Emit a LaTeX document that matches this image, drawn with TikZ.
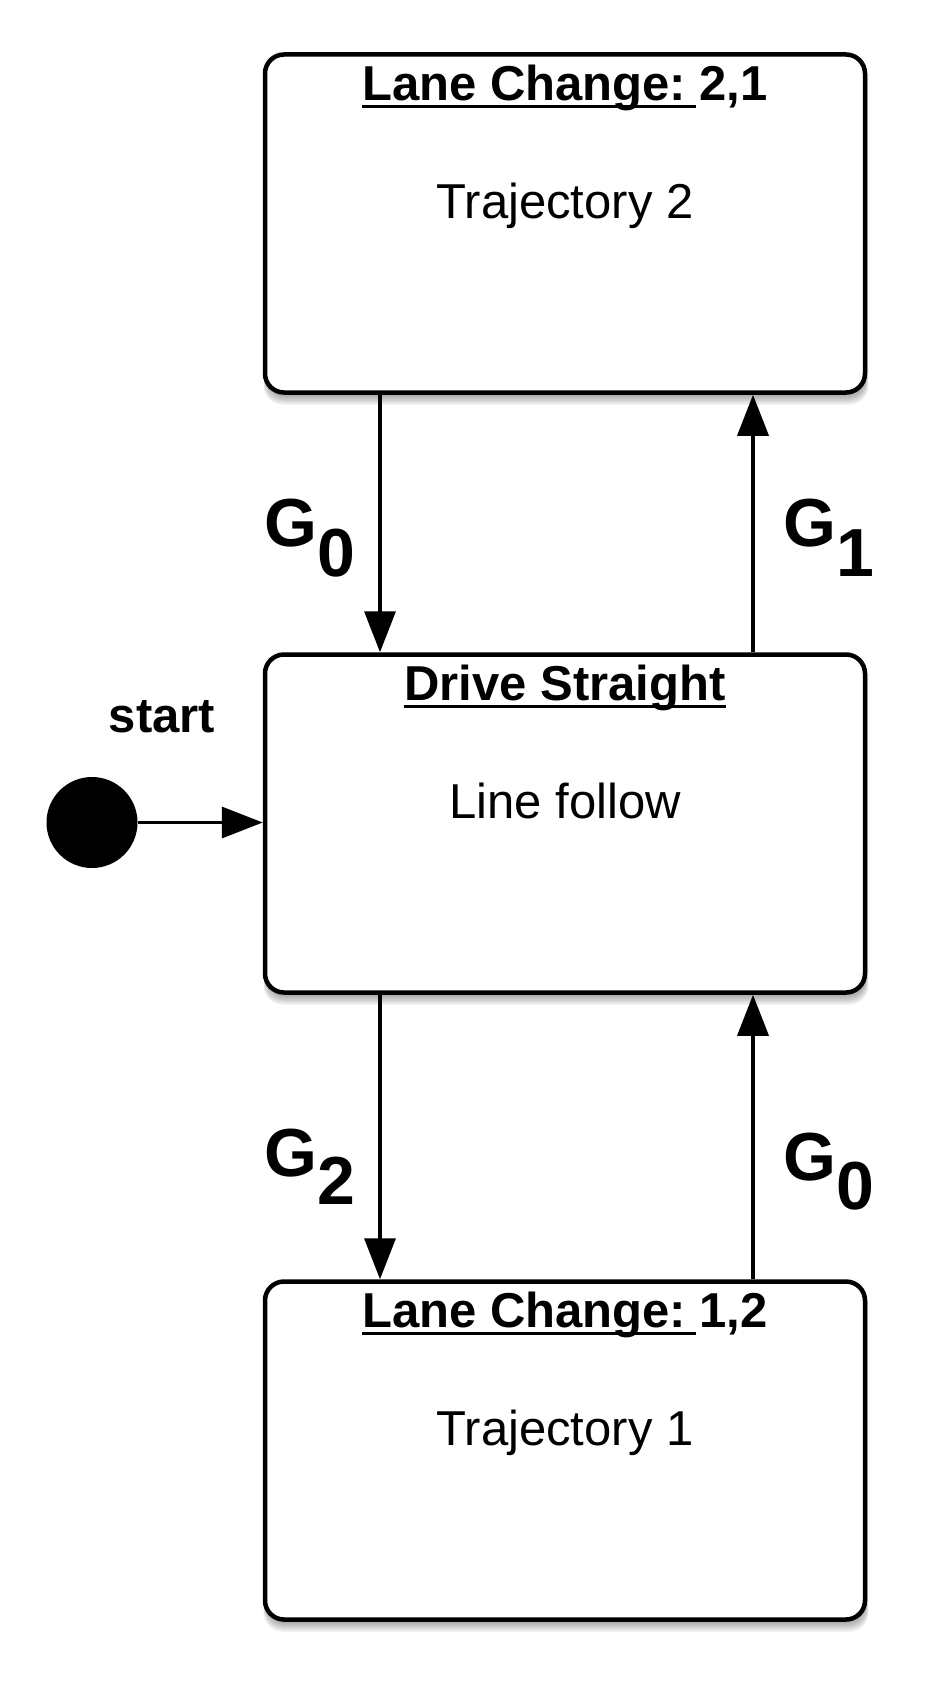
\documentclass[tikz,border=0pt]{standalone}
\usepackage{fontspec}
\setmainfont{Liberation Sans}
\usetikzlibrary{arrows.meta}
\frenchspacing
\newlength\ullen
\newcommand\myul[2][0pt]{\settowidth{\ullen}{#2}\addtolength{\ullen}{#1}\rlap{\rule[-7.3pt]{\ullen}{2.6pt}}#2}
\newcommand\boxshadow[2]{%
  \foreach \g in {0,2,4,6,8}{%
    \fill[black, opacity=0.07, rounded corners=19pt]
      ({#1-299-0.3*\g},{#2-165}) rectangle ({#1+301+0.3*\g},{#2+173+\g});
  }}
\tikzset{
  state/.style={draw, line width=4.5pt, fill=white, rounded corners=19pt,
    minimum width=600pt, minimum height=338pt, inner sep=0pt},
  titletext/.style={inner sep=0pt, font=\fontsize{49}{58}\selectfont\bfseries},
  bodytext/.style={inner sep=0pt, font=\fontsize{49}{58}\selectfont},
  starttext/.style={inner sep=0pt, font=\fontsize{49}{58}\selectfont\bfseries},
  glabel/.style={inner sep=0pt, font=\fontsize{68}{80}\selectfont\bfseries},
  initstate/.style={circle, fill=black, minimum size=91pt, inner sep=0pt},
  arr/.style={line width=3.5pt, -{Triangle[length=41pt,width=31pt]}}
}
\begin{document}
\begin{tikzpicture}[x=1pt,y=-1pt]
\useasboundingbox (0,0) rectangle (933,1691);
\fill[white] (0,0) rectangle (933,1691);
% shadows
\boxshadow{565}{223.5}
\boxshadow{565}{823.5}
\boxshadow{565}{1450.5}
% states
\node[state] (lc21) at (565,223.5) {};
\node[state] (ds) at (565,823.5) {};
\node[state] (lc12) at (565,1450.5) {};
% texts in states
\node[titletext, anchor=base] (lc21t) at ([yshift=-48pt]lc21.north) {\myul[0.2em]{Lane Change:}\hspace{0.278em}2,1};
\node[bodytext, anchor=base] (lc21b) at ([yshift=-166pt]lc21.north) {Trajectory 2};
\node[titletext, anchor=base] (dst) at ([yshift=-48pt]ds.north) {\myul{Drive Straight}};
\node[bodytext, anchor=base] (dsb) at ([yshift=-166pt]ds.north) {Line follow};
\node[titletext, anchor=base] (lc12t) at ([yshift=-48pt]lc12.north) {\myul[0.2em]{Lane Change:}\hspace{0.278em}1,2};
\node[bodytext, anchor=base] (lc12b) at ([yshift=-166pt]lc12.north) {Trajectory 1};
% initial
\node[initstate] (init) at (92,822.5) {};
\node[starttext, anchor=base] (startlbl) at (162,732) {start};
\draw[arr] (init.east) -- (init.east -| ds.west);
% transitions
\draw[arr] ([xshift=-185pt]lc21.south) -- ([xshift=-185pt]ds.north);
\draw[arr] ([xshift=188pt]ds.north) -- ([xshift=188pt]lc21.south);
\draw[arr] ([xshift=-185pt]ds.south) -- ([xshift=-185pt]lc12.north);
\draw[arr] ([xshift=188pt]lc12.north) -- ([xshift=188pt]ds.south);
% guard labels
\node[glabel, anchor=base west] (g0a) at (264,546) {G\raisebox{-30pt}{0}};
\node[glabel, anchor=base west] (g1) at (783,546) {G\raisebox{-30pt}{1}};
\node[glabel, anchor=base west] (g2) at (264,1176) {G\raisebox{-28pt}{2}};
\node[glabel, anchor=base west] (g0b) at (783,1180) {G\raisebox{-29pt}{0}};
\end{tikzpicture}
\end{document}
